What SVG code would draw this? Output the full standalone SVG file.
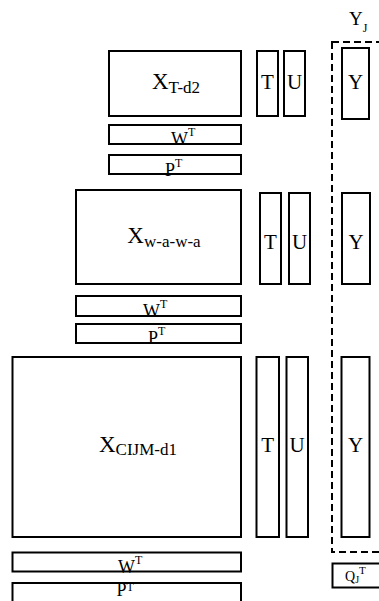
<svg xmlns="http://www.w3.org/2000/svg" width="379" height="601" viewBox="0 0 379 601" font-family="Liberation Serif, serif">
  <style>
    .box { fill: none; stroke: #000; stroke-width: 2; }
    .group { fill: none; stroke: #000; stroke-width: 2; stroke-dasharray: 7 4; }
    text { font-family: 'Liberation Serif', 'Times New Roman', serif; fill: #000; }
    .big { font-size: 23px; }
    .sub { font-size: 17px; }
    .col { font-size: 21px; text-anchor: middle; }
    .row { font-size: 18px; }
    .sup { font-size: 12px; }
  </style>
  <rect width="379" height="601" fill="#fff"/>

  <!-- dashed group around the Y columns (continues past the right edge) -->
  <g id="connectors">
    <rect class="group" x="332" y="42" width="60" height="510"/>
  </g>

  <g id="label-YJ">
    <text x="349" y="25" font-size="19">Y<tspan dy="7" font-size="12">J</tspan></text>
  </g>

  <!-- block 1 -->
  <g id="X-T-d2">
    <rect class="box" x="109" y="51" width="132" height="65"/>
    <text class="big" x="176" y="89" text-anchor="middle">X<tspan class="sub" dy="4">T-d2</tspan></text>
  </g>
  <g id="W1">
    <text class="row" x="171" y="145">W<tspan class="sup" dy="-9">T</tspan></text>
    <rect class="box" x="109" y="125" width="132" height="19"/>
  </g>
  <g id="P1">
    <text class="row" x="165" y="175.5">P<tspan class="sup" dy="-9">T</tspan></text>
    <rect class="box" x="109" y="155" width="132" height="19"/>
  </g>
  <g id="T1">
    <rect class="box" x="257" y="51" width="21" height="65"/>
    <text class="col" x="267.5" y="89">T</text>
  </g>
  <g id="U1">
    <rect class="box" x="284" y="51" width="21" height="65"/>
    <text class="col" x="294.5" y="89">U</text>
  </g>
  <g id="Y1">
    <rect class="box" x="342" y="48" width="27" height="71"/>
    <text class="col" x="355.5" y="89">Y</text>
  </g>

  <!-- block 2 -->
  <g id="X-w-a-w-a">
    <rect class="box" x="76" y="190" width="165" height="94"/>
    <text class="big" x="164" y="243" text-anchor="middle">X<tspan class="sub" dy="4">w-a-w-a</tspan></text>
  </g>
  <g id="W2">
    <text class="row" x="143" y="317">W<tspan class="sup" dy="-9">T</tspan></text>
    <rect class="box" x="76" y="296" width="165" height="20"/>
  </g>
  <g id="P2">
    <text class="row" x="148" y="344">P<tspan class="sup" dy="-9">T</tspan></text>
    <rect class="box" x="76" y="324" width="165" height="19"/>
  </g>
  <g id="T2">
    <rect class="box" x="260" y="193" width="21" height="91"/>
    <text class="col" x="270.5" y="249">T</text>
  </g>
  <g id="U2">
    <rect class="box" x="289" y="193" width="21" height="91"/>
    <text class="col" x="299.5" y="249">U</text>
  </g>
  <g id="Y2">
    <rect class="box" x="342" y="193" width="28" height="91"/>
    <text class="col" x="356" y="249">Y</text>
  </g>

  <!-- block 3 -->
  <g id="X-CIJM-d1">
    <rect class="box" x="12.5" y="357" width="228.5" height="180"/>
    <text class="big" x="138" y="452" text-anchor="middle">X<tspan class="sub" dy="3">CIJM-d1</tspan></text>
  </g>
  <g id="W3">
    <text class="row" x="118" y="572.5">W<tspan class="sup" dy="-9">T</tspan></text>
    <rect class="box" x="12.5" y="552.5" width="228.5" height="19"/>
  </g>
  <g id="P3">
    <text class="row" x="116.5" y="596" font-size="16">P<tspan class="sup" dy="-5">T</tspan></text>
    <rect class="box" x="12.5" y="583" width="228.5" height="30"/>
  </g>
  <g id="T3">
    <rect class="box" x="256.5" y="357" width="22.5" height="180"/>
    <text class="col" x="267.7" y="452">T</text>
  </g>
  <g id="U3">
    <rect class="box" x="286.5" y="357" width="21.5" height="180"/>
    <text class="col" x="297.2" y="452">U</text>
  </g>
  <g id="Y3">
    <rect class="box" x="341.5" y="357" width="28" height="180"/>
    <text class="col" x="355.5" y="452">Y</text>
  </g>

  <g id="QJ">
    <rect class="box" x="332.5" y="563.5" width="60" height="24"/>
    <text x="345" y="581" font-size="14">Q<tspan dy="2" font-size="10">J</tspan><tspan dy="-9" font-size="11">T</tspan></text>
  </g>
</svg>
